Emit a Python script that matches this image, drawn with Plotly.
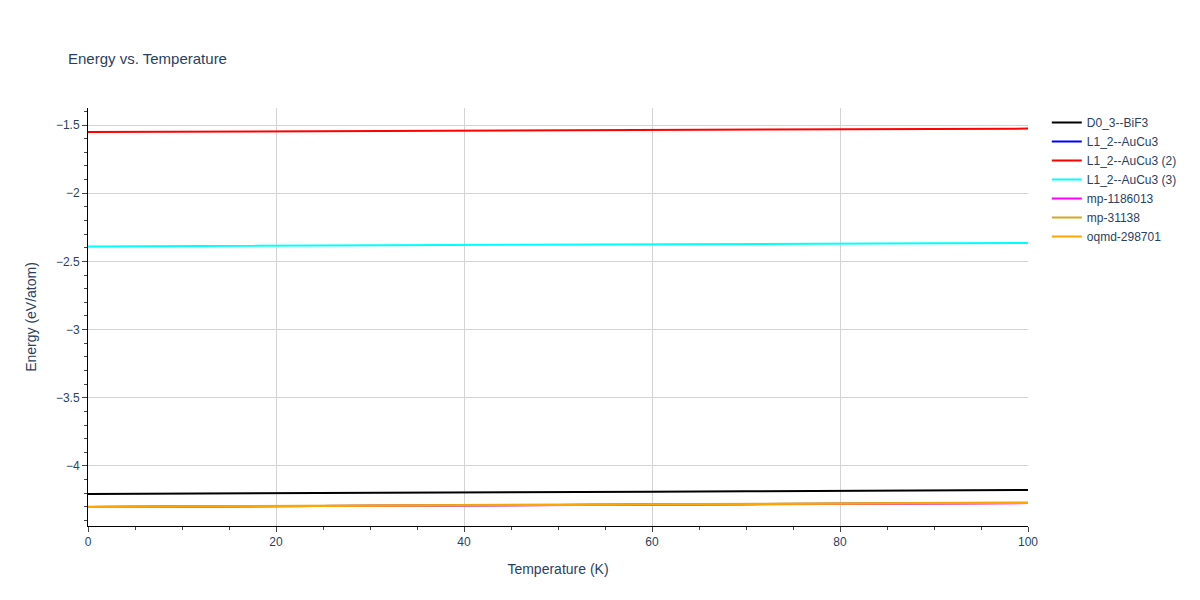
import plotly.graph_objects as go

temps = [0, 10, 20, 30, 40, 50, 60, 70, 80, 90, 100]

names = ['D0_3--BiF3', 'L1_2--AuCu3', 'L1_2--AuCu3 (2)', 'L1_2--AuCu3 (3)',
         'mp-1186013', 'mp-31138', 'oqmd-298701']
colors = ['black', 'blue', 'red', 'cyan', 'magenta', 'goldenrod', 'orange']

e_bif3 = [-4.205, -4.203, -4.200, -4.197, -4.194, -4.191, -4.188, -4.185, -4.182, -4.179, -4.176]
e_aucu3 = [-4.300, -4.298, -4.295, -4.292, -4.289, -4.286, -4.283, -4.280, -4.277, -4.274, -4.271]
e_aucu3_2 = [-1.551, -1.549, -1.547, -1.544, -1.542, -1.539, -1.537, -1.534, -1.531, -1.528, -1.526]
e_aucu3_3 = [-2.390, -2.388, -2.386, -2.383, -2.381, -2.378, -2.376, -2.373, -2.370, -2.367, -2.364]
e_mp1186013 = [-4.301, -4.299, -4.296, -4.293, -4.290, -4.287, -4.284, -4.281, -4.278, -4.275, -4.272]
e_mp31138 = [-4.298, -4.295, -4.292, -4.289, -4.286, -4.283, -4.280, -4.277, -4.274, -4.271, -4.268]
e_oqmd = [-4.300, -4.298, -4.295, -4.292, -4.289, -4.286, -4.283, -4.280, -4.277, -4.274, -4.271]

series = [e_bif3, e_aucu3, e_aucu3_2, e_aucu3_3, e_mp1186013, e_mp31138, e_oqmd]

fig = go.Figure()
for name, col, vals in zip(names, colors, series):
    fig.add_trace(go.Scatter(x=temps, y=vals, mode='lines', name=name,
                             line=dict(color=col, width=2)))

fig.update_layout(
    title=dict(text='Energy vs. Temperature', x=0.05, y=0.925, font=dict(size=15)),
    width=1200, height=600,
    font=dict(family='Liberation Sans, Arial, sans-serif', color='#2a3f5f'),
    margin=dict(l=80, r=180, t=100, b=82),
    plot_bgcolor='white',
    xaxis=dict(title='Temperature (K)', range=[0, 100], showgrid=True, gridcolor='lightgray',
               showline=True, linecolor='black', ticks='outside', minor=dict(ticks='outside', nticks=5),
               zeroline=False),
    yaxis=dict(title='Energy (eV/atom)', range=[-4.44, -1.375], showgrid=True, gridcolor='lightgray',
               showline=True, linecolor='black', ticks='outside', minor=dict(ticks='outside', nticks=5),
               zeroline=False),
)
fig.write_html("out.html")
